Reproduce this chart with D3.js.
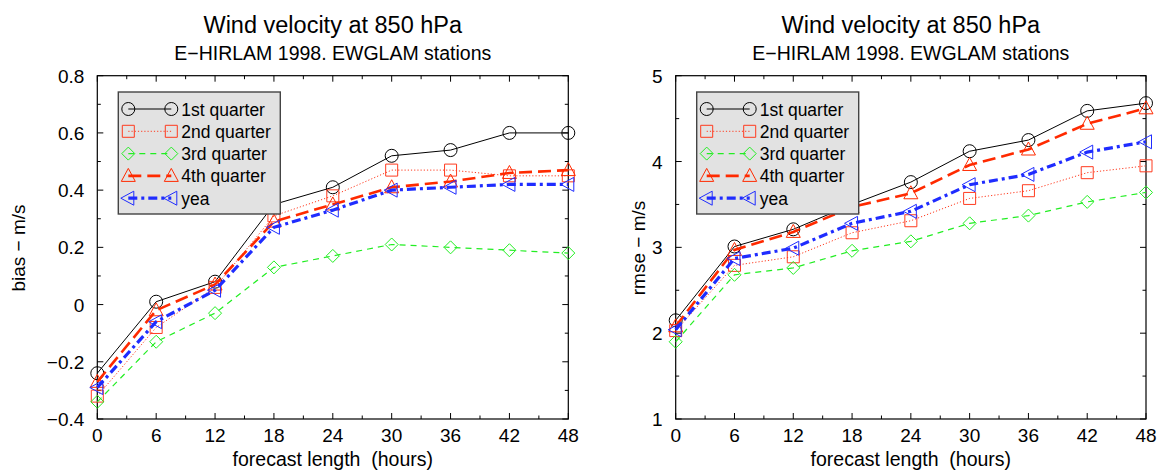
<!DOCTYPE html>
<html>
<head>
<meta charset="utf-8">
<script src="https://cdn.jsdelivr.net/npm/d3@7"></script>
<style>
  body { margin: 0; background: #fff; }
  text { font-family: "Liberation Sans", Arial, sans-serif; fill: #000; }
</style>
</head>
<body>
<div id="chart"></div>
<script>
// forecast length (hours)
const hours = [0, 6, 12, 18, 24, 30, 36, 42, 48];
const seriesNames = ["1st quarter", "2nd quarter", "3rd quarter", "4th quarter", "yea"];

// bias (m/s)
const bias1 = [-0.24, 0.01, 0.08, 0.35, 0.41, 0.52, 0.54, 0.60, 0.60];
const bias2 = [-0.32, -0.08, 0.06, 0.31, 0.38, 0.47, 0.47, 0.45, 0.45];
const bias3 = [-0.34, -0.13, -0.03, 0.13, 0.17, 0.21, 0.20, 0.19, 0.18];
const bias4 = [-0.27, -0.02, 0.07, 0.29, 0.35, 0.41, 0.43, 0.46, 0.47];
const biasY = [-0.29, -0.06, 0.05, 0.27, 0.33, 0.40, 0.41, 0.42, 0.42];

// rmse (m/s)
const rmse1 = [2.15, 3.01, 3.21, 3.50, 3.76, 4.12, 4.25, 4.59, 4.68];
const rmse2 = [2.03, 2.79, 2.89, 3.17, 3.31, 3.57, 3.66, 3.87, 3.95];
const rmse3 = [1.90, 2.68, 2.76, 2.96, 3.07, 3.28, 3.37, 3.53, 3.64];
const rmse4 = [2.08, 2.97, 3.18, 3.47, 3.63, 3.96, 4.14, 4.44, 4.62];
const rmseY = [2.04, 2.87, 2.99, 3.28, 3.42, 3.73, 3.85, 4.11, 4.23];

const biasTicks = [-0.4, -0.2, 0, 0.2, 0.4, 0.6, 0.8];
const rmseTicks = [1, 2, 3, 4, 5];

const styles = [
  { color: "#000000", width: 1, dash: null, marker: "circle" },
  { color: "#ff3b1f", width: 1, dash: "1.2,2", marker: "square" },
  { color: "#22ee22", width: 1.2, dash: "6,5", marker: "diamond" },
  { color: "#ff2a00", width: 2.6, dash: "13,6", marker: "triangle" },
  { color: "#1f2cff", width: 3.2, dash: "9,4,3,4", marker: "left" }
];

const svg = d3.select("#chart").append("svg")
  .attr("width", 1162).attr("height", 473);

function marker(g, type, cx, cy, color) {
  const s = 6.5;
  let el;
  if (type === "circle") {
    el = g.append("circle").attr("cx", cx).attr("cy", cy).attr("r", s);
  } else {
    let pts;
    if (type === "square") pts = [[-s+0.5, -s+0.5], [s-0.5, -s+0.5], [s-0.5, s-0.5], [-s+0.5, s-0.5]];
    if (type === "diamond") pts = [[0, -s], [s, 0], [0, s], [-s, 0]];
    if (type === "triangle") pts = [[0, -s-1], [s+0.5, s-1], [-s-0.5, s-1]];
    if (type === "left") pts = [[-s-1, 0], [s-1, -s-0.5], [s-1, s+0.5]];
    el = g.append("polygon").attr("points", pts.map(p => (cx + p[0]) + "," + (cy + p[1])).join(" "));
  }
  el.attr("fill", "none").attr("stroke", color).attr("stroke-width", 1);
}

function panel(opt) {
  const x = d3.scaleLinear().domain([0, 48]).range([opt.left, opt.right]);
  const y = d3.scaleLinear().domain(opt.domain).range([419, 75.7]);
  const g = svg.append("g");
  const cx = (opt.left + opt.right) / 2;

  // titles
  g.append("text").attr("x", cx).attr("y", 33).attr("text-anchor", "middle")
    .style("font-size", "23.5px").text("Wind velocity at 850 hPa");
  g.append("text").attr("x", cx).attr("y", 60).attr("text-anchor", "middle")
    .style("font-size", "19.5px").text("E\u2212HIRLAM 1998. EWGLAM stations");

  // frame
  g.append("rect").attr("x", opt.left).attr("y", 75.7)
    .attr("width", opt.right - opt.left).attr("height", 419 - 75.7)
    .attr("fill", "none").attr("stroke", "#000").attr("stroke-width", 1.2);

  // x ticks (inward, top and bottom)
  const xMinor = d3.range(0, 49, 3);
  xMinor.forEach(h => {
    const major = h % 6 === 0;
    const len = major ? 6 : 3.5;
    g.append("line").attr("x1", x(h)).attr("x2", x(h)).attr("y1", 419).attr("y2", 419 - len)
      .attr("stroke", "#000");
    g.append("line").attr("x1", x(h)).attr("x2", x(h)).attr("y1", 75.7).attr("y2", 75.7 + len)
      .attr("stroke", "#000");
  });
  g.selectAll(".xl").data(hours).enter().append("text")
    .attr("x", d => x(d)).attr("y", 442).attr("text-anchor", "middle")
    .style("font-size", "19px").text(d => d);
  g.append("text").attr("x", cx).attr("y", 466).attr("text-anchor", "middle")
    .style("font-size", "19.5px").style("white-space", "pre")
    .text("forecast length  (hours)");

  // y ticks
  const yMinor = d3.range(opt.domain[0], opt.domain[1] + opt.minor / 2, opt.minor);
  yMinor.forEach(v => {
    const major = opt.ticks.some(t => Math.abs(t - v) < 1e-6);
    const len = major ? 6 : 3.5;
    g.append("line").attr("x1", opt.left).attr("x2", opt.left + len).attr("y1", y(v)).attr("y2", y(v))
      .attr("stroke", "#000");
    g.append("line").attr("x1", opt.right).attr("x2", opt.right - len).attr("y1", y(v)).attr("y2", y(v))
      .attr("stroke", "#000");
  });
  g.selectAll(".yl").data(opt.ticks).enter().append("text")
    .attr("x", opt.left - 13).attr("y", d => y(d) + 7).attr("text-anchor", "end")
    .style("font-size", "19px").text(opt.fmt);
  g.append("text")
    .attr("transform", "translate(" + opt.ylabX + "," + 248 + ") rotate(-90)")
    .attr("text-anchor", "middle").style("font-size", "19px").text(opt.ylabel);

  // series
  const line = d3.line().x((d, i) => x(hours[i])).y(d => y(d));
  opt.series.forEach((vals, k) => {
    const st = styles[k];
    g.append("path").datum(vals).attr("d", line).attr("fill", "none")
      .attr("stroke", st.color).attr("stroke-width", st.width)
      .attr("stroke-dasharray", st.dash);
    vals.forEach((v, i) => marker(g, st.marker, x(hours[i]), y(v), st.color));
  });

  // legend
  const lx = opt.left + 21, ly = 92;
  const lg = g.append("g");
  lg.append("rect").attr("x", lx).attr("y", ly).attr("width", 162).attr("height", 122)
    .attr("fill", "#e2e2e2").attr("stroke", "#444").attr("stroke-width", 1.4);
  seriesNames.forEach((name, k) => {
    const st = styles[k];
    const yy = ly + 17 + k * 22.3;
    lg.append("line").attr("x1", lx + 10).attr("x2", lx + 53).attr("y1", yy).attr("y2", yy)
      .attr("stroke", st.color).attr("stroke-width", st.width).attr("stroke-dasharray", st.dash);
    marker(lg, st.marker, lx + 10, yy, st.color);
    marker(lg, st.marker, lx + 53, yy, st.color);
    lg.append("text").attr("x", lx + 63).attr("y", yy + 6.5).style("font-size", "17.5px").text(name);
  });
}

panel({
  left: 97.3, right: 568.3, domain: [-0.4, 0.8], ticks: biasTicks, minor: 0.1,
  fmt: d => d === 0 ? "0" : d3.format(".1f")(d).replace("-", "\u2212"),
  ylabel: "bias \u2212 m/s", ylabX: 25,
  series: [bias1, bias2, bias3, bias4, biasY]
});
panel({
  left: 675.7, right: 1146, domain: [1, 5], ticks: rmseTicks, minor: 0.5,
  fmt: d => d, ylabel: "rmse \u2212 m/s", ylabX: 645,
  series: [rmse1, rmse2, rmse3, rmse4, rmseY]
});
</script>
</body>
</html>
